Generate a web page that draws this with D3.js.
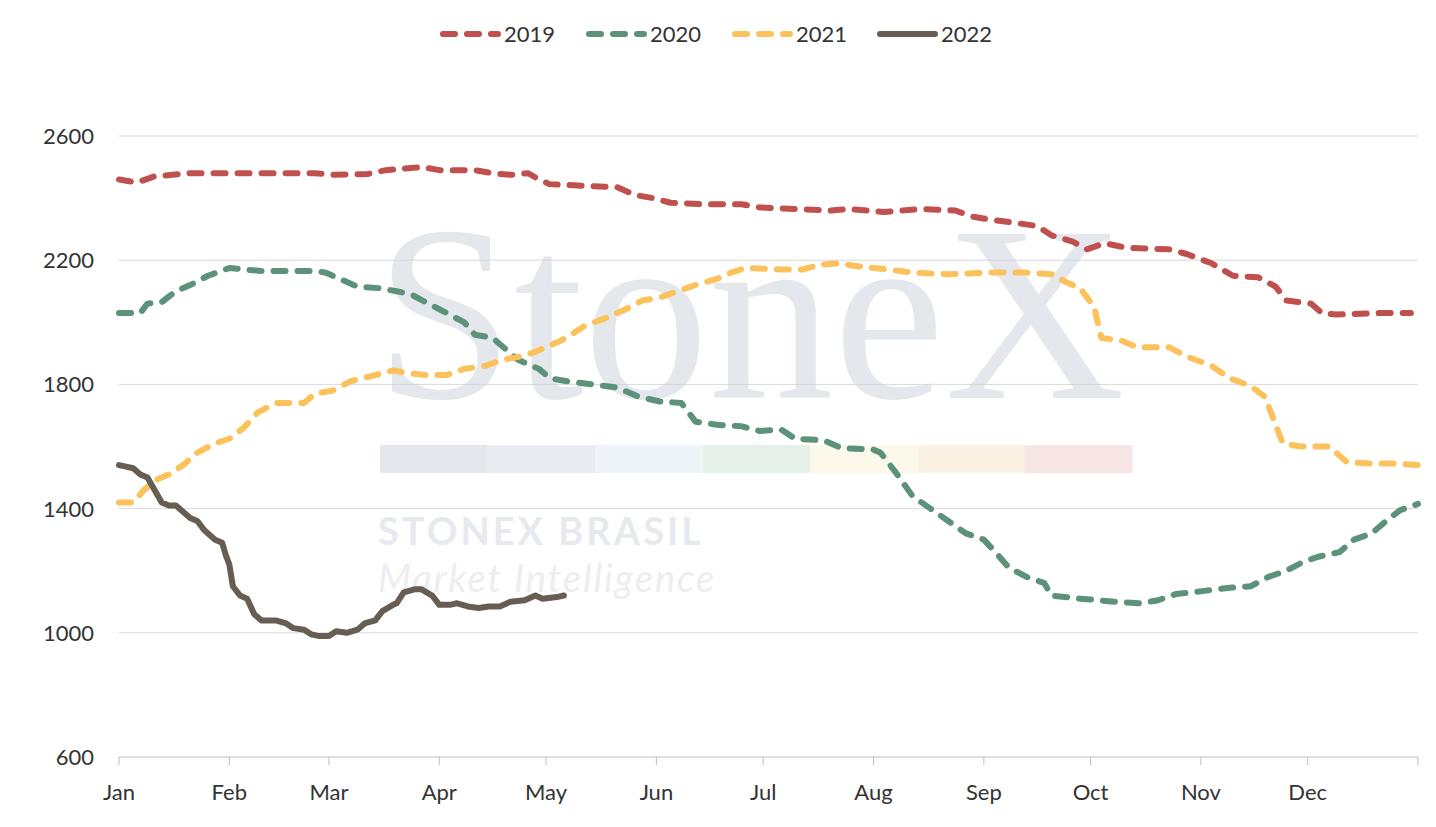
<!DOCTYPE html>
<html><head><meta charset="utf-8">
<script src="https://cdn.jsdelivr.net/npm/d3@7"></script>
<style>body{margin:0;background:#fff;font-family:Lato,"Open Sans",sans-serif}</style>
</head><body><svg id="c" width="1436" height="827"></svg>
<script>
var colors = {"2019": "#c0504d", "2020": "#5b9279", "2021": "#fbc25c", "2022": "#665e52"};
var months = ["Jan","Feb","Mar","Apr","May","Jun","Jul","Aug","Sep","Oct","Nov","Dec"];
var monthStart = [0,31,59,90,120,151,181,212,243,273,304,334];

// [day of year, value]
var series = {
 "2019": [[0,2460],[5,2450],[10,2470],[20,2480],[31,2480],[45,2480],[55,2480],[60,2475],[70,2478],[75,2490],[80,2495],[85,2500],[90,2490],[100,2490],[105,2480],[110,2475],[115,2480],[118,2460],[121,2445],[130,2440],[140,2435],[145,2410],[150,2400],[155,2385],[165,2380],[175,2380],[180,2370],[190,2365],[200,2360],[205,2365],[215,2355],[225,2365],[235,2360],[240,2340],[245,2330],[252,2320],[258,2310],[262,2280],[268,2260],[272,2235],[277,2255],[283,2240],[295,2235],[300,2220],[307,2190],[313,2150],[320,2145],[325,2115],[328,2070],[335,2060],[338,2030],[342,2025],[355,2030],[363,2030]],
 "2020": [[0,2030],[6,2030],[8,2060],[12,2065],[16,2100],[20,2120],[25,2150],[31,2175],[40,2165],[55,2165],[58,2160],[62,2140],[67,2115],[73,2110],[78,2100],[82,2090],[87,2060],[92,2030],[97,2000],[100,1960],[105,1950],[108,1920],[112,1880],[118,1850],[121,1820],[126,1810],[133,1800],[140,1790],[146,1760],[152,1745],[158,1740],[162,1680],[168,1670],[175,1665],[180,1650],[186,1655],[190,1625],[198,1620],[203,1595],[212,1590],[214,1580],[218,1520],[223,1440],[228,1400],[233,1360],[238,1320],[243,1300],[247,1250],[250,1210],[255,1180],[260,1160],[262,1120],[270,1110],[280,1100],[287,1095],[292,1105],[297,1125],[305,1135],[312,1145],[318,1150],[323,1180],[328,1200],[333,1230],[337,1245],[343,1260],[347,1300],[352,1320],[356,1360],[360,1395],[365,1415]],
 "2021": [[0,1420],[4,1420],[7,1460],[10,1490],[14,1510],[18,1540],[22,1580],[27,1610],[31,1625],[35,1660],[39,1710],[44,1740],[52,1740],[55,1770],[60,1780],[65,1810],[72,1830],[77,1845],[82,1835],[86,1830],[92,1830],[97,1850],[103,1860],[108,1880],[113,1890],[117,1905],[124,1940],[127,1960],[131,1990],[136,2010],[142,2040],[147,2070],[152,2080],[157,2100],[162,2120],[168,2140],[172,2160],[176,2175],[186,2170],[192,2170],[197,2185],[202,2190],[208,2180],[216,2170],[223,2160],[233,2155],[245,2160],[255,2160],[262,2155],[266,2130],[270,2110],[274,2050],[276,1950],[282,1940],[286,1920],[295,1920],[300,1890],[307,1860],[312,1820],[318,1795],[322,1760],[324,1700],[327,1610],[332,1600],[340,1600],[342,1580],[345,1550],[352,1545],[358,1545],[365,1540]],
 "2022": [[0,1540],[2,1535],[4,1530],[6,1510],[8,1500],[10,1460],[12,1420],[14,1410],[16,1410],[18,1390],[20,1370],[22,1360],[24,1330],[27,1300],[29,1290],[30,1250],[31,1220],[32,1150],[34,1120],[36,1110],[38,1060],[40,1040],[44,1040],[47,1030],[49,1015],[52,1010],[54,995],[56,990],[59,990],[61,1005],[64,1000],[67,1010],[69,1030],[72,1040],[74,1070],[77,1090],[78,1095],[80,1130],[83,1140],[85,1140],[88,1120],[90,1090],[93,1090],[95,1095],[98,1085],[101,1080],[104,1085],[107,1085],[110,1100],[114,1105],[117,1120],[119,1110],[123,1115],[125,1120]]
};

var svg = d3.select("#c");
var x = d3.scaleLinear().domain([0,365]).range([119,1418]);
var y = d3.scaleLinear().domain([600,2600]).range([757,136]);

// gridlines
svg.selectAll("line.grid").data([1000,1400,1800,2200,2600]).enter().append("line")
  .attr("x1",119).attr("x2",1418).attr("y1",y).attr("y2",y)
  .attr("stroke","#d9d9d9").attr("stroke-width",1);

// watermark
var wm = svg.append("g").attr("opacity",0.55);
wm.append("text").attr("x",750).attr("y",398).attr("text-anchor","middle")
  .style("font-family","'Liberation Serif',serif").style("font-size","250px").attr("fill","#cfd5dd").text("StoneX");
var wmCols = ["#cfd5dd","#d6dde6","#e3ecf5","#d3e6d8","#faf3dc","#fbe9cf","#f1d1d1"];
wmCols.forEach(function(c,i){
  wm.append("rect").attr("x",380+i*107.5).attr("y",445).attr("width",107.5).attr("height",28).attr("fill",c);
});
wm.append("text").attr("x",378).attr("y",545).style("font-size","38px").style("font-weight","bold")
  .style("letter-spacing","3px").attr("fill","#d3d8df").text("STONEX BRASIL");
wm.append("text").attr("x",378).attr("y",592).style("font-size","38px").style("font-style","italic")
  .style("letter-spacing","2px").attr("fill","#dde1e6").text("Market Intelligence");

// axes
svg.append("line").attr("x1",119).attr("x2",1418).attr("y1",757).attr("y2",757).attr("stroke","#bfbfbf");
svg.selectAll("line.tick").data(monthStart.concat([365])).enter().append("line")
  .attr("x1",x).attr("x2",x).attr("y1",757).attr("y2",765).attr("stroke","#bfbfbf");
svg.selectAll("text.mon").data(months).enter().append("text")
  .attr("x",function(d,i){return x(monthStart[i]);}).attr("y",800).attr("text-anchor","middle")
  .style("font-size","22px").attr("fill","#333").text(function(d){return d;});
svg.selectAll("text.yl").data([600,1000,1400,1800,2200,2600]).enter().append("text")
  .attr("x",94).attr("y",function(d){return y(d)+8;}).attr("text-anchor","end")
  .style("font-size","22px").attr("fill","#333").text(function(d){return d;});

var line = d3.line().x(function(d){return x(d[0]);}).y(function(d){return y(d[1]);});
Object.keys(series).forEach(function(k){
  svg.append("path").datum(series[k]).attr("d",line).attr("fill","none")
    .attr("stroke",colors[k]).attr("stroke-width",6).attr("stroke-linecap","round").attr("stroke-linejoin","round")
    .attr("stroke-dasharray", k=="2022" ? null : "12 12");
});

// legend
var lg = [["2019",443],["2020",589],["2021",735],["2022",880]];
lg.forEach(function(l){
  svg.append("line").attr("x1",l[1]).attr("x2",l[1]+55).attr("y1",34).attr("y2",34)
    .attr("stroke",colors[l[0]]).attr("stroke-width",6).attr("stroke-linecap","round")
    .attr("stroke-dasharray", l[0]=="2022" ? null : "12 12");
  svg.append("text").attr("x",l[1]+61).attr("y",42).style("font-size","22px").attr("fill","#333").text(l[0]);
});
</script></body></html>
